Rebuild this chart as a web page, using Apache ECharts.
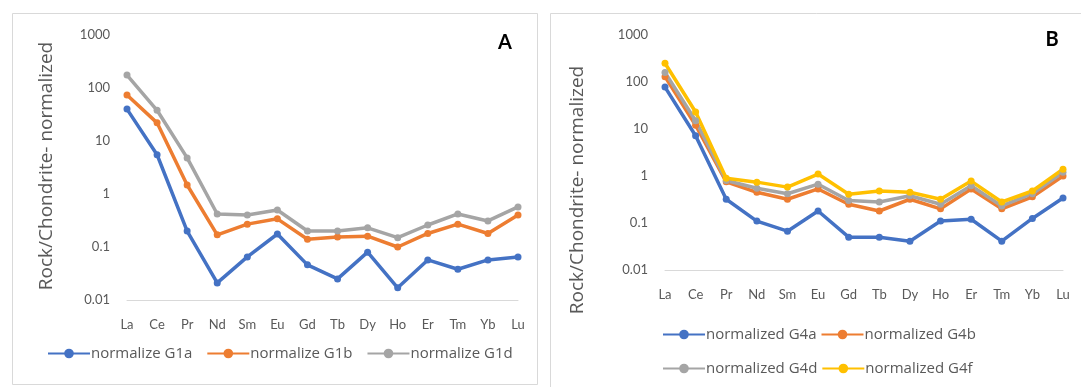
<!DOCTYPE html>
<html>
<head>
<meta charset="utf-8">
<script src="https://cdn.jsdelivr.net/npm/echarts@6/dist/echarts.min.js"></script>
<style>
html,body{margin:0;padding:0;background:#fff;}
#chart{width:1081px;height:387px;}
</style>
</head>
<body>
<div id="chart"></div>
<script>
// ---- data ----
const elements = ['La','Ce','Pr','Nd','Sm','Eu','Gd','Tb','Dy','Ho','Er','Tm','Yb','Lu'];
const yTickLabels = ['0.01','0.1','1','10','100','1000'];

const namesA = ['normalize G1a','normalize G1b','normalize G1d'];
const G1a = [40, 5.5, 0.2, 0.021, 0.065, 0.176, 0.046, 0.025, 0.08, 0.017, 0.057, 0.038, 0.057, 0.065];
const G1b = [74, 22, 1.48, 0.17, 0.27, 0.34, 0.14, 0.155, 0.16, 0.1, 0.18, 0.27, 0.18, 0.4];
const G1d = [175, 38, 4.8, 0.42, 0.4, 0.5, 0.2, 0.2, 0.23, 0.15, 0.26, 0.42, 0.31, 0.57];

const namesB = ['normalized G4a','normalized G4b','normalized G4d','normalized G4f'];
const G4a = [78, 7.2, 0.32, 0.11, 0.067, 0.18, 0.05, 0.05, 0.041, 0.11, 0.12, 0.041, 0.125, 0.34];
const G4b = [130, 12, 0.75, 0.45, 0.32, 0.53, 0.25, 0.18, 0.32, 0.2, 0.53, 0.2, 0.36, 1.0];
const G4d = [160, 15, 0.8, 0.55, 0.42, 0.67, 0.3, 0.28, 0.38, 0.25, 0.62, 0.23, 0.42, 1.2];
const G4f = [250, 23, 0.9, 0.74, 0.58, 1.1, 0.41, 0.48, 0.45, 0.32, 0.78, 0.28, 0.48, 1.4];

const yName = 'Rock/Chondrite- normalized';
const colors = ['#4472C4','#ED7D31','#A5A5A5','#FFC000'];
const txt = '#595959';
const FONT = 'Lato, "Open Sans", sans-serif';
const FONT2 = '"Open Sans", Lato, sans-serif';

function yLabel(v){
  const i = Math.round(Math.log10(v)) + 2;
  return yTickLabels[i] !== undefined ? yTickLabels[i] : '';
}

function xAx(gi){
  return {
    type:'category', gridIndex:gi, data:elements, boundaryGap:false,
    axisLine:{show:true, lineStyle:{color:'#d9d9d9', width:1}},
    axisTick:{show:false},
    axisLabel:{color:txt, fontSize:13, fontFamily:FONT, margin:18, interval:0}
  };
}
function yAx(gi){
  return {
    type:'log', logBase:10, gridIndex:gi, min:0.01, max:1000,
    axisLine:{show:false}, axisTick:{show:false}, splitLine:{show:false},
    axisLabel:{color:txt, fontSize:13, fontFamily:FONT, margin:17, formatter:yLabel}
  };
}
function ser(name, data, gi, color){
  return {
    type:'line', name:name, data:data, xAxisIndex:gi, yAxisIndex:gi,
    symbol:'circle', symbolSize:7, color:color,
    lineStyle:{width:3.5, color:color}, itemStyle:{color:color},
    animation:false
  };
}
const legendText = {color:txt, fontSize:15, fontFamily:FONT2, padding:[0,0,0,-4]};

const chart = echarts.init(document.getElementById('chart'));
chart.setOption({
  animation:false,
  backgroundColor:'#fff',
  graphic:[
    {type:'rect', shape:{x:12.5, y:13.5, width:525, height:371}, style:{fill:'none', stroke:'#d9d9d9', lineWidth:1}, z:-10},
    {type:'rect', shape:{x:550.5, y:13.5, width:540, height:380}, style:{fill:'none', stroke:'#d9d9d9', lineWidth:1}, z:-10},
    {type:'text', x:505, y:43, style:{text:'A', fill:'#000', font:'bold 20px '+FONT, textAlign:'center', textVerticalAlign:'middle'}},
    {type:'text', x:1052, y:40, style:{text:'B', fill:'#000', font:'bold 20px '+FONT, textAlign:'center', textVerticalAlign:'middle'}},
    {type:'text', x:47, y:166, rotation:Math.PI/2, style:{text:yName, fill:txt, font:'19px '+FONT2, textAlign:'center', textVerticalAlign:'middle'}},
    {type:'text', x:578, y:190, rotation:Math.PI/2, style:{text:yName, fill:txt, font:'19px '+FONT2, textAlign:'center', textVerticalAlign:'middle'}}
  ],
  grid:[
    {left:127, right:1081-518, top:35, bottom:387-300},
    {left:665, right:1081-1063, top:35, bottom:387-270}
  ],
  xAxis:[xAx(0), xAx(1)],
  yAxis:[yAx(0), yAx(1)],
  legend:[
    {data:namesA, left:47, top:346, padding:0, itemWidth:42, itemHeight:12, itemGap:14, textStyle:legendText},
    {data:[namesB[0], namesB[1]], left:662, top:327, padding:0, itemWidth:42, itemHeight:12, itemGap:4, textStyle:legendText},
    {data:[namesB[2], namesB[3]], left:662, top:361, padding:0, itemWidth:42, itemHeight:12, itemGap:4, textStyle:legendText}
  ],
  series:[
    ser(namesA[0], G1a, 0, colors[0]),
    ser(namesA[1], G1b, 0, colors[1]),
    ser(namesA[2], G1d, 0, colors[2]),
    ser(namesB[0], G4a, 1, colors[0]),
    ser(namesB[1], G4b, 1, colors[1]),
    ser(namesB[2], G4d, 1, colors[2]),
    ser(namesB[3], G4f, 1, colors[3])
  ]
});
</script>
</body>
</html>
